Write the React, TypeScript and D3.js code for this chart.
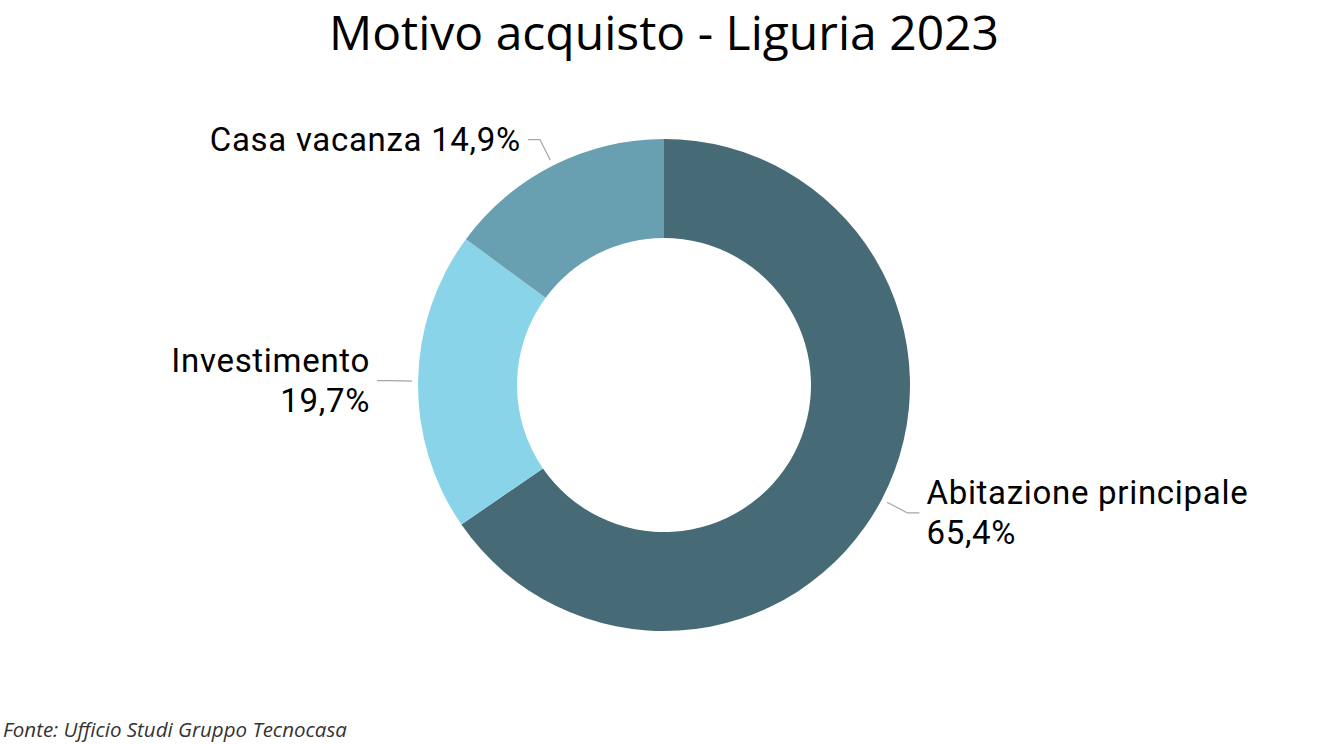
import React from "react";
import * as d3 from "d3";

const categories = ["Abitazione principale", "Investimento", "Casa vacanza"];
const values = [65.4, 19.7, 14.9];
const labelLines = [["Abitazione principale", "65,4%"], ["Investimento", "19,7%"], ["Casa vacanza 14,9%"]];
const colors = ["#466A76", "#8AD4EA", "#68A0B1"];
const title = "Motivo acquisto - Liguria 2023";
const source = "Fonte: Ufficio Studi Gruppo Tecnocasa";

const W = 1328, H = 744;
const cx = 664, cy = 385;
const outerR = 246, innerR = 147;

export default function App() {
  const pie = d3.pie<number>().sort(null).value((d) => d);
  const arcs = pie(values);
  const arc = d3.arc<d3.PieArcDatum<number>>().innerRadius(innerR).outerRadius(outerR);
  const labelFont = "Roboto, 'DejaVu Sans', sans-serif";
  const lineH = 40;
  return (
    <div style={{ position: "absolute", left: 0, top: 0 }}>
      <svg width={W} height={H} style={{ display: "block" }}>
        <rect width={W} height={H} fill="#fff" />
        <text x={cx} y={50} textAnchor="middle" fontFamily="'Open Sans', 'Noto Sans', sans-serif" fontSize={47} fill="#000" textLength={670} lengthAdjust="spacingAndGlyphs">
          {title}
        </text>
        <g transform={`translate(${cx},${cy})`}>
          {arcs.map((a, i) => (
            <path key={categories[i]} d={arc(a) || ""} fill={colors[i]} />
          ))}
          {arcs.map((a, i) => {
            const mid = (a.startAngle + a.endAngle) / 2;
            const dx = Math.sin(mid), dy = -Math.cos(mid);
            const p1 = [dx * 252, dy * 252];
            const p2 = [dx * 275, dy * 275];
            const right = dx >= 0;
            const p3 = [p2[0] + (right ? 12 : -12), p2[1]];
            const lines = labelLines[i];
            const tx = p3[0] + (right ? 7 : -7);
            const n = lines.length;
            const firstBaseline = p3[1] + 11 - ((n - 1) * lineH) / 2;
            return (
              <g key={"l" + i}>
                <polyline points={[p1, p2, p3].map((p) => p.join(",")).join(" ")} fill="none" stroke="#a6a6a6" strokeWidth={1.2} />
                <text x={tx} y={firstBaseline} textAnchor={right ? "start" : "end"} fontFamily={labelFont} fontSize={33} letterSpacing={0.7} fill="#000">
                  {lines.map((l, j) => (
                    <tspan key={j} x={tx} y={firstBaseline + j * lineH}>{l}</tspan>
                  ))}
                </text>
              </g>
            );
          })}
        </g>
        <text x={3} y={737} fontFamily="'Open Sans', 'Noto Sans', sans-serif" fontStyle="italic" fontSize={20.5} fill="#333">
          {source}
        </text>
      </svg>
    </div>
  );
}
